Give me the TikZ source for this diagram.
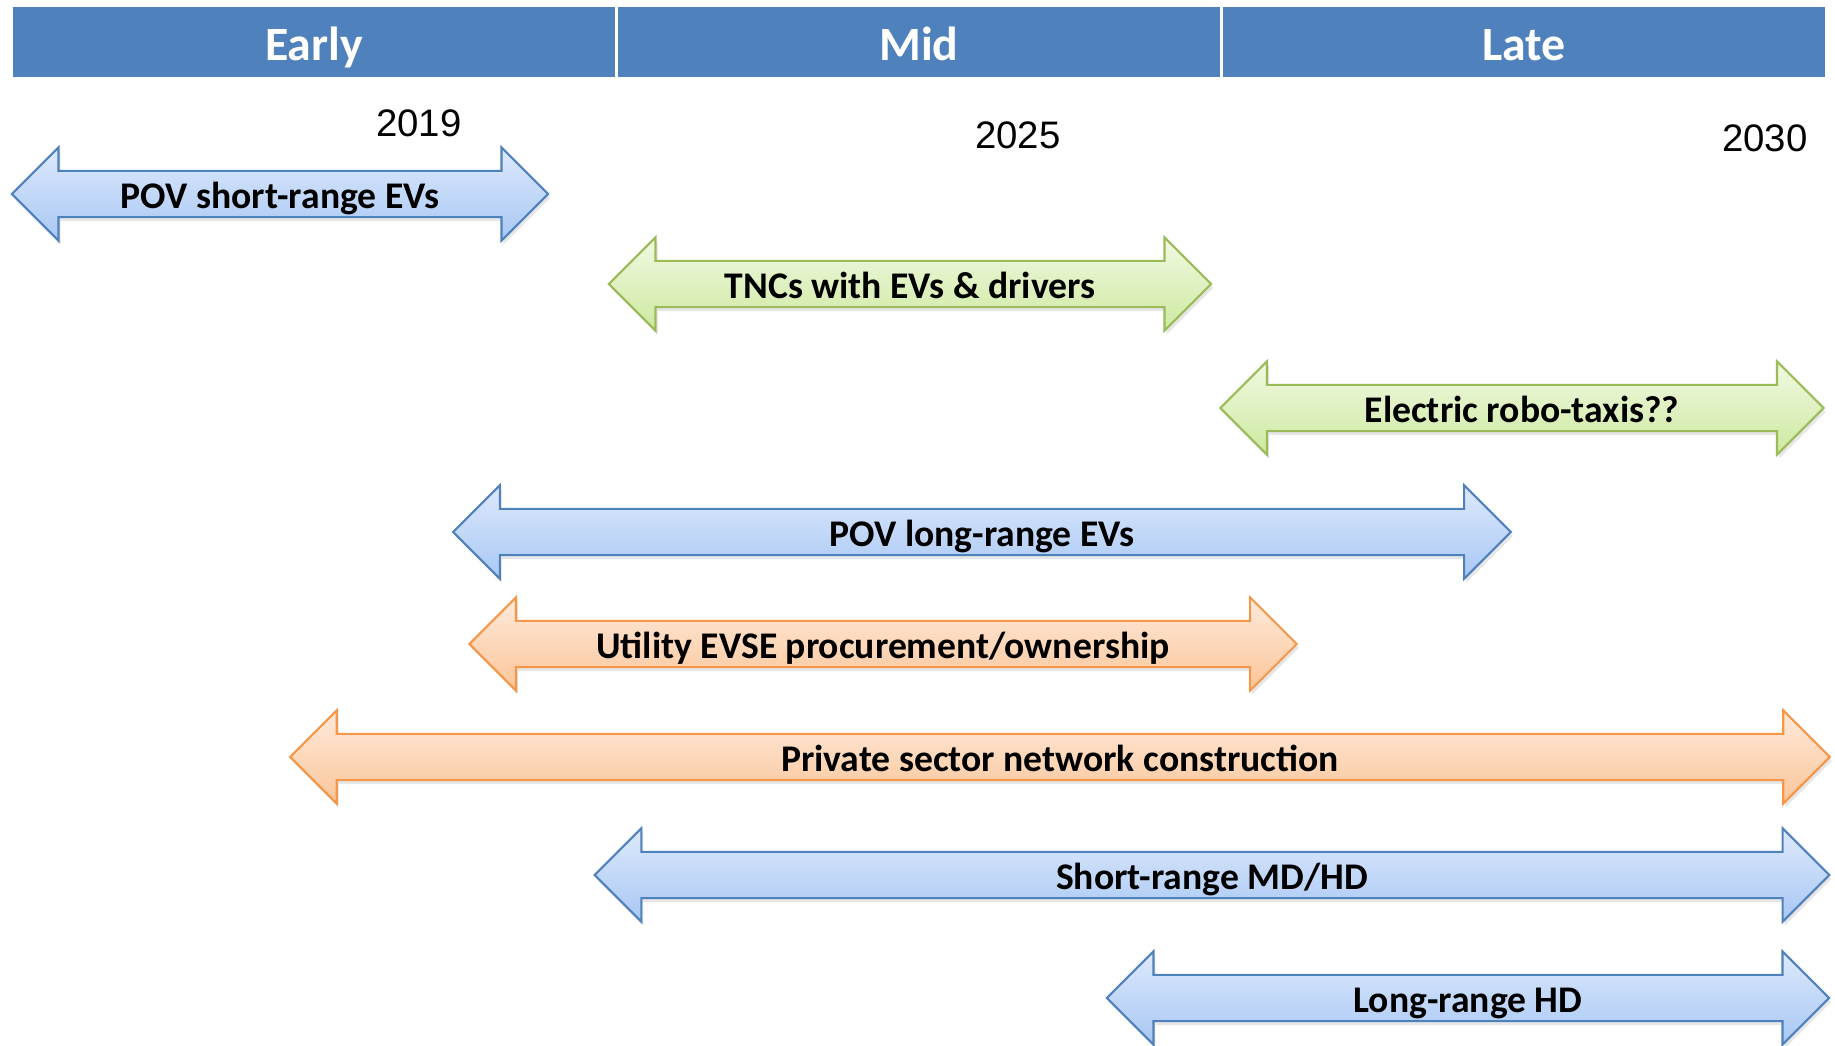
\documentclass[tikz,border=0pt]{standalone}
\usepackage{fontspec}
\setmainfont{Carlito}
\newfontfamily\yearfont{Liberation Sans}
\usetikzlibrary{shapes.arrows,shadows}
\definecolor{hdrblue}{HTML}{4F81BD}
\definecolor{bline}{HTML}{4F81BD}
\definecolor{btop}{HTML}{DDE9FC}
\definecolor{bbot}{HTML}{A8C7F4}
\definecolor{gline}{HTML}{9BBB59}
\definecolor{gtop}{HTML}{F1F9E2}
\definecolor{gbot}{HTML}{CDE9A0}
\definecolor{oline}{HTML}{F79646}
\definecolor{otop}{HTML}{FEEADB}
\definecolor{obot}{HTML}{FBC599}

\begin{document}
\begin{tikzpicture}[
  x=0.01cm,y=-0.01cm,
  hdr/.style={rectangle,fill=hdrblue,draw=white,line width=0.6pt,minimum width=6.04cm,
    minimum height=0.72cm,inner sep=0pt,text height=0.37cm,text depth=0pt,text=white,
    font=\bfseries\fontsize{13.6}{16}\selectfont},
  yr/.style={inner sep=0pt,font=\yearfont\fontsize{10.9}{13}\selectfont},
  span/.style={double arrow,double arrow head extend=0.236cm,double arrow tip angle=90,
    inner xsep=0pt,inner ysep=0.05cm,text height=0.313cm,text depth=0.027cm,line width=0.6pt,
    font=\bfseries\fontsize{10.7}{12}\selectfont,
    drop shadow={opacity=0.2,shadow xshift=0.02cm,shadow yshift=-0.04cm}},
  barrow/.style={span,draw=bline,top color=btop,bottom color=bbot},
  garrow/.style={span,draw=gline,top color=gtop,bottom color=gbot},
  oarrow/.style={span,draw=oline,top color=otop,bottom color=obot}
]
  \useasboundingbox (0,0) rectangle (1835,1046);
  % phases
  \node[hdr] (early) at (314,42) {Early};
  \node[hdr] (mid) at (919,42) {Mid};
  \node[hdr] (late) at (1524,42) {Late};
  % years
  \node[yr] (y2019) at (419,123) {2019};
  \node[yr] (y2025) at (1018,135) {2025};
  \node[yr] (y2030) at (1765,138) {2030};
  % spans
  \node[barrow,minimum height=5.36cm] (povshort) at (280,194) {POV short-range EVs};
  \node[garrow,minimum height=6.02cm] (tnc) at (910,284) {TNCs with EVs \& drivers};
  \node[garrow,minimum height=6.03cm] (robo) at (1522,408) {Electric robo-taxis??};
  \node[barrow,minimum height=10.57cm] (povlong) at (982,532) {POV long-range EVs};
  \node[oarrow,minimum height=8.27cm] (utility) at (883,644) {Utility EVSE procurement/ownership};
  \node[oarrow,minimum height=15.39cm] (private) at (1060,757) {Private sector network construction};
  \node[barrow,minimum height=12.34cm] (mdhd) at (1212,875) {Short-range MD/HD};
  \node[barrow,minimum height=7.22cm] (hd) at (1468,998) {Long-range HD};
\end{tikzpicture}
\end{document}
